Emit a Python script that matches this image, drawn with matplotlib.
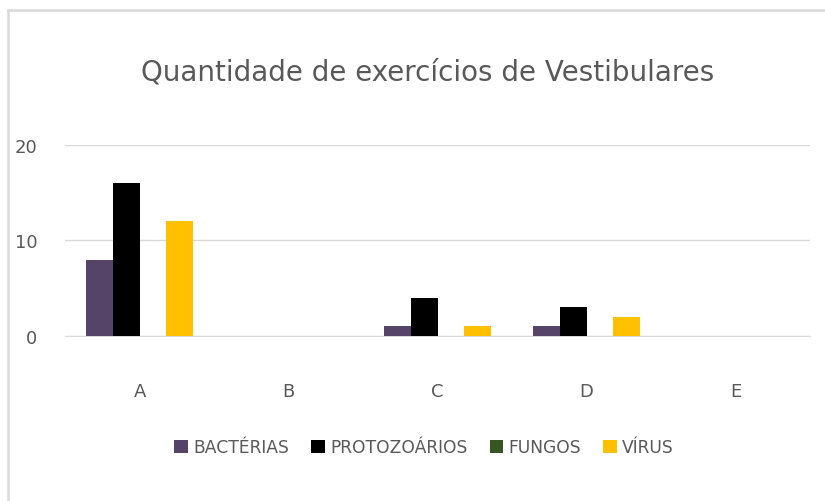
import matplotlib.pyplot as plt
from matplotlib.lines import Line2D
import numpy as np

plt.rcParams['font.family'] = ['DejaVu Sans']

# Dados do gráfico
categorias = ['A', 'B', 'C', 'D', 'E']
series = ['BACTÉRIAS', 'PROTOZOÁRIOS', 'FUNGOS', 'VÍRUS']
bacterias = [8, 0, 1, 1, 0]
protozoarios = [16, 0, 4, 3, 0]
fungos = [0, 0, 0, 0, 0]
virus = [12, 0, 1, 2, 0]
cores = ['#554468', '#000000', '#375623', '#FFC000']

valores = [bacterias, protozoarios, fungos, virus]

fig = plt.figure(figsize=(8.25, 5.02), dpi=100)
# borda do gráfico (só aparece em cima e à esquerda)
bx, by = 7.5 / 825, 1 - 11 / 502
fig.add_artist(Line2D([bx, 1], [by, by], transform=fig.transFigure, color='#d9d9d9', lw=1.8))
fig.add_artist(Line2D([bx, bx], [0, by], transform=fig.transFigure, color='#d9d9d9', lw=1.8))

ax = fig.add_axes([0.079, 0.329, 0.903, 0.38])

x = np.arange(len(categorias))
largura = 0.18
for i, (nome, vals, cor) in enumerate(zip(series, valores, cores)):
    ax.bar(x + (i - 1.5) * largura, vals, largura, color=cor, label=nome, zorder=3)

ax.set_xlim(-0.5, len(categorias) - 0.5)
ax.set_ylim(0, 20)
ax.set_yticks([0, 10, 20])
ax.set_xticks(x)
ax.set_xticklabels(categorias)
ax.grid(axis='y', color='#d9d9d9', linewidth=1, zorder=0)
for s in ['top', 'right', 'left']:
    ax.spines[s].set_visible(False)
ax.spines['bottom'].set_color('#d9d9d9')
ax.tick_params(axis='both', length=0, colors='#595959', labelsize=13)
ax.tick_params(axis='x', pad=33)
ax.tick_params(axis='y', pad=20)

fig.text(0.518, 0.855, 'Quantidade de exercícios de Vestibulares', ha='center', va='center',
         fontsize=20, color='#595959')

fig.legend(loc='center', bbox_to_anchor=(0.514, 0.107), ncol=4, frameon=False,
           fontsize=12.3, labelcolor='#595959', handlelength=0.8, handleheight=0.8,
           handletextpad=0.3, columnspacing=1.3)

fig.savefig('out.png', dpi=100)
